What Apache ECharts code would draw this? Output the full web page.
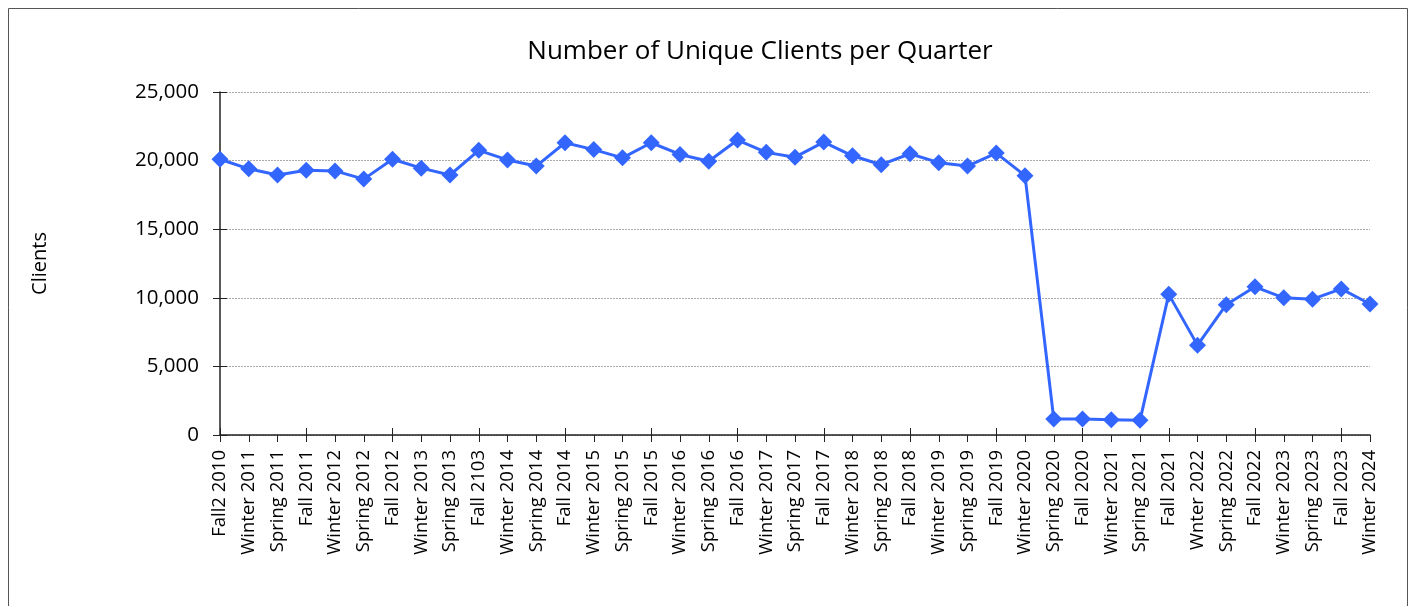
<!DOCTYPE html>
<html>
<head>
<meta charset="utf-8">
<script src="https://cdn.jsdelivr.net/npm/echarts@6/dist/echarts.min.js"></script>
<style>
  html, body { margin: 0; padding: 0; background: #fff; }
  #chart { width: 1416px; height: 606px; }
</style>
</head>
<body>
<div id="chart"></div>
<script>
var quarters = ['Fall2 2010', 'Winter 2011', 'Spring 2011', 'Fall 2011', 'Winter 2012', 'Spring 2012',
    'Fall 2012', 'Winter 2013', 'Spring 2013', 'Fall 2103', 'Winter 2014', 'Spring 2014',
    'Fall 2014', 'Winter 2015', 'Spring 2015', 'Fall 2015', 'Winter 2016', 'Spring 2016',
    'Fall 2016', 'Winter 2017', 'Spring 2017', 'Fall 2017', 'Winter 2018', 'Spring 2018',
    'Fall 2018', 'Winter 2019', 'Spring 2019', 'Fall 2019', 'Winter 2020', 'Spring 2020',
    'Fall 2020', 'Winter 2021', 'Spring 2021', 'Fall 2021', 'Wnter 2022', 'Spring 2022',
    'Fall 2022', 'Winter 2023', 'Spring 2023', 'Fall 2023', 'Winter 2024'];

var clients = [20100, 19400, 18950, 19300, 19250, 18650,
    20100, 19450, 18950, 20750, 20050, 19600,
    21300, 20800, 20200, 21300, 20450, 19950,
    21500, 20600, 20250, 21350, 20350, 19700,
    20500, 19850, 19600, 20550, 18900, 1170,
    1170, 1120, 1070, 10250, 6550, 9500,
    10800, 10000, 9900, 10650, 9550];

var yTicks = [0, 5000, 10000, 15000, 20000, 25000];

var font = 'Open Sans';

var chart = echarts.init(document.getElementById('chart'));

// ticks cross the axis line in the original, so a second pair of axes draws the inner half
var option = {
    animation: false,
    title: {
        text: 'Number of Unique Clients per Quarter',
        left: 755,
        top: 34,
        textAlign: 'center',
        textStyle: { fontFamily: font, fontSize: 26, fontWeight: 'normal', color: '#000' }
    },
    graphic: [{
        type: 'rect',
        shape: { x: 8.5, y: 8.5, width: 1399, height: 640 },
        style: { fill: 'none', stroke: '#555', lineWidth: 1 }
    }],
    grid: { left: 220, right: 46, top: 92, bottom: 171 },
    xAxis: [{
        type: 'category',
        data: quarters,
        boundaryGap: false,
        axisLine: { lineStyle: { color: '#222', width: 1.5 } },
        axisTick: { length: 7, lineStyle: { color: '#222' } },
        axisLabel: { rotate: 90, margin: 15, interval: 0, fontFamily: font, fontSize: 18.5, color: '#000' }
    }, {
        type: 'category',
        data: quarters,
        boundaryGap: false,
        position: 'bottom',
        axisLine: { show: false },
        axisTick: { show: true, inside: true, length: 7, lineStyle: { color: '#222' } },
        axisLabel: { show: false }
    }],
    yAxis: [{
        type: 'value',
        min: yTicks[0],
        max: yTicks[yTicks.length - 1],
        interval: 5000,
        name: 'Clients',
        nameLocation: 'middle',
        nameRotate: 90,
        nameGap: 170,
        nameTextStyle: { fontFamily: font, fontSize: 20, color: '#000' },
        axisLine: { show: true, lineStyle: { color: '#222', width: 1.5 } },
        axisTick: { show: true, length: 7, lineStyle: { color: '#222' } },
        axisLabel: {
            margin: 21, fontFamily: font, fontSize: 20.5, color: '#000',
            formatter: function (v) { return v.toLocaleString('en-US'); }
        },
        splitLine: { lineStyle: { color: '#aaa', type: [2, 1], width: 1 } }
    }, {
        type: 'value',
        min: yTicks[0],
        max: yTicks[yTicks.length - 1],
        interval: 5000,
        position: 'left',
        axisLine: { show: false },
        axisTick: { show: true, inside: true, length: 7, lineStyle: { color: '#222' } },
        axisLabel: { show: false },
        splitLine: { show: false }
    }],
    series: [{
        name: 'Clients',
        type: 'line',
        data: clients,
        symbol: 'diamond',
        symbolSize: 17,
        lineStyle: { color: '#3366ff', width: 3 },
        itemStyle: { color: '#3366ff' }
    }]
};

chart.setOption(option);
</script>
</body>
</html>
